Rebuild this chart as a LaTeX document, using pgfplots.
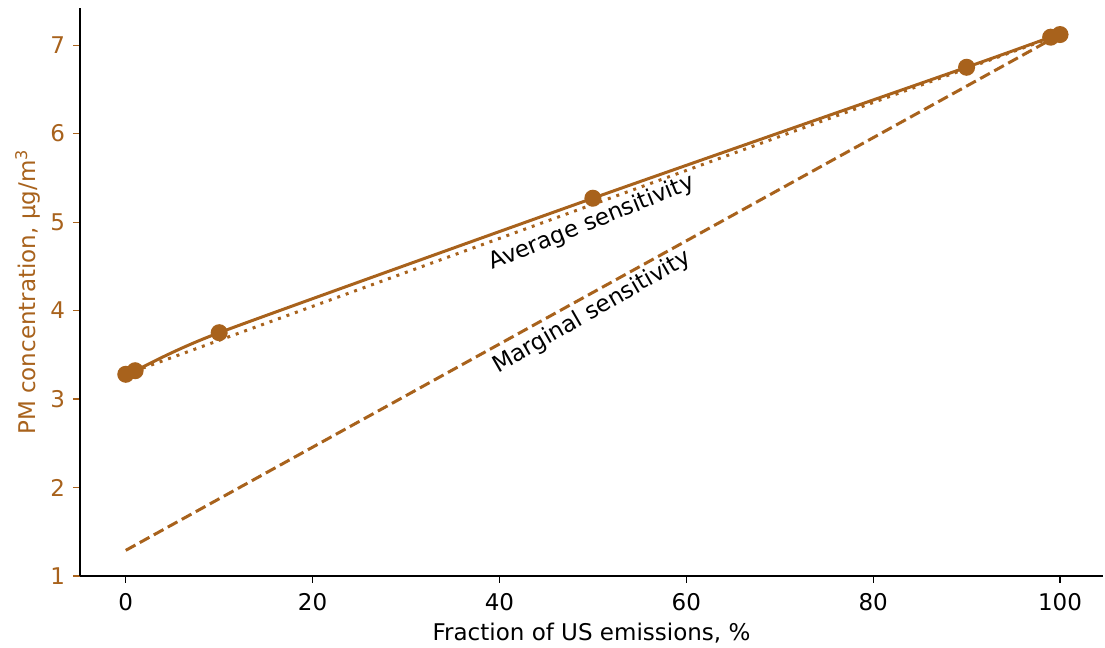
\documentclass[border=0pt]{standalone}
\usepackage{fontspec}
\setmainfont{DejaVu Sans}
\usepackage{pgfplots}
\pgfplotsset{compat=1.18}
\definecolor{pm}{RGB}{168,98,28}
\newcommand{\fs}{\fontsize{11.5}{13.5}\selectfont}
\begin{document}
\fs
\begin{tikzpicture}
\path[use as bounding box] (-40pt,-36pt) rectangle (512.5pt,288pt);
\begin{axis}[
  scale only axis,
  width=511.5pt, height=284pt,
  anchor=south west, at={(0,0)},
  xmin=-4.9, xmax=104.6, ymin=1, ymax=7.42,
  axis x line*=bottom, axis y line*=left,
  axis line style={black, line width=0.75pt, -},
  xtick={0,20,40,60,80,100},
  ytick={1,2,3,4,5,6,7},
  tick align=outside,
  major tick length=3.5pt,
  tick style={line width=0.6pt},
  xtick style={black},
  ytick style={pm},
  yticklabel style={text=pm},
  xticklabel style={yshift=-1pt},
  /pgf/number format/assume math mode=true,
  ticklabel style={font=\fs},
  xlabel={Fraction of US emissions, \%},
  ylabel={PM concentration, µg/m\textsuperscript{3}},
  ylabel style={text=pm, font=\fs},
  xlabel style={font=\fs},
  xlabel shift=-1.5pt,
  ylabel shift=-3pt,
  clip=false,
]
\addplot[pm, line width=1.5pt, dash pattern=on 5.5pt off 2.5pt] coordinates {(0,1.29) (100,7.12)};
\addplot[pm, line width=1.5pt, dash pattern=on 1.5pt off 3pt] coordinates {(0,3.28) (100,7.12)};
\addplot[pm, line width=1.5pt, smooth, tension=0.35, mark=*, mark size=3.5pt, mark options={solid, fill=pm, draw=pm}]
  coordinates {(0,3.28) (1,3.32) (10,3.75) (50,5.27) (90,6.75) (99,7.09) (100,7.12)};
\node[rotate=22, font=\fs] at (axis cs:49.9,4.99) {Average sensitivity};
\node[rotate=30, font=\fs] at (axis cs:49.9,3.98) {Marginal sensitivity};
\end{axis}
\end{tikzpicture}
\end{document}
